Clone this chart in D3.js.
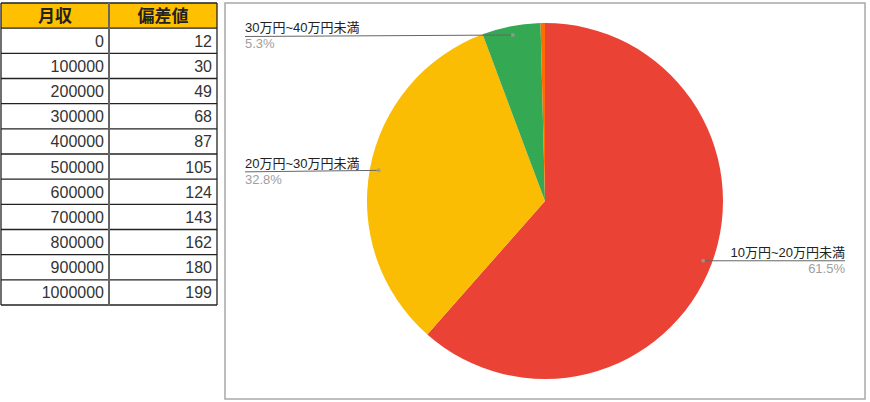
<!DOCTYPE html>
<html><head><meta charset="utf-8">
<script src="https://cdn.jsdelivr.net/npm/d3@7"></script>
<style>body{margin:0;background:#fff}svg{display:block}</style>
</head><body>
<svg id="c" width="870" height="402"></svg>
<script>
const tableHeaders = ["月収", "偏差値"];
const incomes = [0,100000,200000,300000,400000,500000,600000,700000,800000,900000,1000000];
const deviations = [12,30,49,68,87,105,124,143,162,180,199];

const sliceLabels = ["10万円~20万円未満","20万円~30万円未満","30万円~40万円未満","40万円~50万円未満"];
const sliceValues = [61.5, 32.8, 5.3, 0.4];
const sliceColors = ["#EA4335","#FBBC04","#34A853","#FF6D01"];

const svg = d3.select("#c");
const font = "Arial, 'Liberation Sans', 'Noto Sans CJK JP', sans-serif";

// ---- table ----
const tx = d3.scaleLinear().domain([0,2]).range([1,217]);
const ty = d3.scaleLinear().domain([0,12]).range([3,305]);
const tbl = svg.append("g");
tbl.selectAll("rect.h").data(tableHeaders).join("rect")
  .attr("x",(d,i)=>tx(i)).attr("y",ty(0)).attr("width",tx(1)-tx(0)).attr("height",ty(1)-ty(0))
  .attr("fill","#FFC000");
tbl.selectAll("text.h").data(tableHeaders).join("text")
  .attr("x",(d,i)=>(tx(i)+tx(i+1))/2).attr("y",ty(0.5)+6)
  .attr("text-anchor","middle").attr("font-family",font).attr("font-weight","bold")
  .attr("font-size",17).attr("fill","#222").text(d=>d);
const rows = incomes.map((v,i)=>[v,deviations[i]]);
rows.forEach((r,i)=>{
  r.forEach((v,j)=>{
    tbl.append("text").attr("x",tx(j+1)-5).attr("y",ty(i+1.5)+6)
      .attr("text-anchor","end").attr("font-family",font).attr("font-size",16)
      .attr("fill","#333").text(v);
  });
});
tbl.selectAll("line.r").data(d3.range(13)).join("line")
  .attr("x1",tx(0)).attr("x2",tx(2)).attr("y1",d=>ty(d)).attr("y2",d=>ty(d))
  .attr("stroke","#222").attr("stroke-width",1.3);
tbl.selectAll("line.c").data([0,1,2]).join("line")
  .attr("x1",d=>tx(d)).attr("x2",d=>tx(d)).attr("y1",ty(0)).attr("y2",ty(12))
  .attr("stroke",d=>d===1?"#666":"#222").attr("stroke-width",d=>d===1?2:1.3);

// ---- chart frame ----
svg.append("rect").attr("x",225).attr("y",3).attr("width",640).attr("height",396)
  .attr("fill","#fff").attr("stroke","#a8a8a8").attr("stroke-width",1.5);

// ---- pie ----
const cx = 545, cy = 201, R = 178;
const pie = d3.pie().sort(null).value(d=>d.v);
const data = sliceValues.map((v,i)=>({v, label:sliceLabels[i], color:sliceColors[i]}));
const arcs = pie(data);
const arc = d3.arc().innerRadius(0).outerRadius(R);
const g = svg.append("g").attr("transform",`translate(${cx},${cy})`);
g.selectAll("path").data(arcs).join("path").attr("d",arc).attr("fill",d=>d.data.color);

// ---- labels ----
const labelArc = d3.arc().innerRadius(R*0.95).outerRadius(R*0.95);
arcs.filter(a=>a.data.v>=1).forEach(a=>{
  const [dx,dy] = labelArc.centroid(a);
  const px = cx+dx, py = cy+dy;
  const right = dx>0;
  const lx = right ? 845 : 245;
  const ly = py + (right ? 0 : 1.5);
  svg.append("line").attr("x1",lx).attr("x2",px).attr("y1",ly).attr("y2",py)
    .attr("stroke","#666").attr("stroke-width",1);
  svg.append("circle").attr("cx",px).attr("cy",py).attr("r",2).attr("fill","#9a9a9a").attr("opacity",0.8);
  svg.append("text").attr("x",lx).attr("y",ly-4).attr("text-anchor",right?"end":"start")
    .attr("font-family",font).attr("font-size",13).attr("fill","#222").text(a.data.label);
  svg.append("text").attr("x",lx).attr("y",ly+12).attr("text-anchor",right?"end":"start")
    .attr("font-family",font).attr("font-size",13).attr("fill","#9e9e9e").text(a.data.v.toFixed(1)+"%");
});
</script>
</body></html>
